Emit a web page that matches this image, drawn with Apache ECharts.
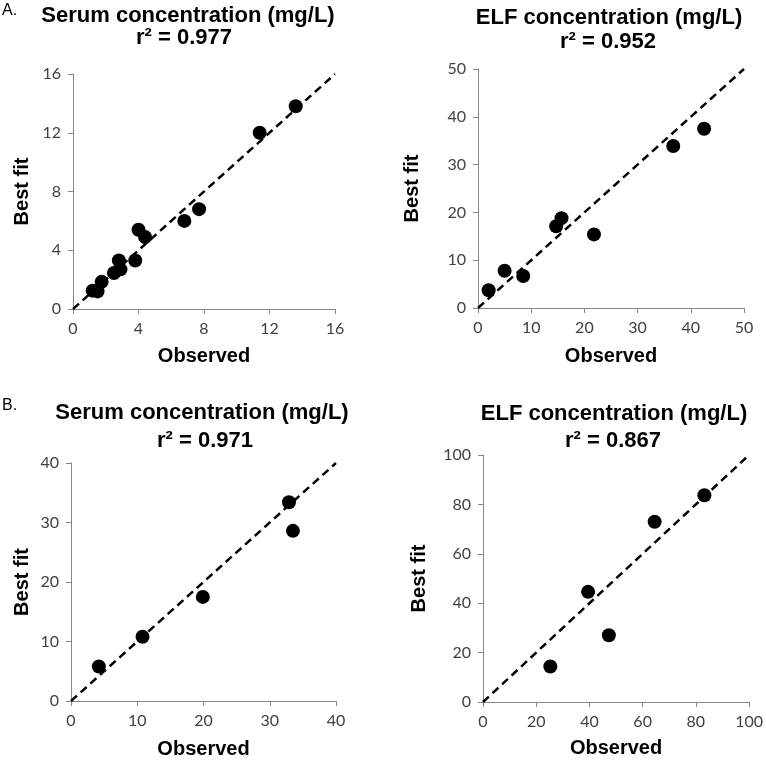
<!DOCTYPE html>
<html>
<head>
<meta charset="utf-8">
<script src="https://cdn.jsdelivr.net/npm/echarts@6/dist/echarts.min.js"></script>
<style>html,body{margin:0;padding:0;background:#fff}#c{width:766px;height:762px}</style>
</head>
<body>
<div id="c"></div>
<script>
// ---- Data ----
const serumA_obs = [13.6, 11.4, 7.7, 6.8, 4.0, 4.4, 3.8, 2.8, 2.9, 2.5, 1.75, 1.2, 1.5];
const serumA_fit = [13.8, 12.0, 6.8, 6.0, 5.4, 4.9, 3.3, 3.3, 2.7, 2.45, 1.85, 1.25, 1.2];
const elfA_obs = [2.0, 5.0, 8.5, 14.7, 15.7, 21.8, 36.7, 42.5];
const elfA_fit = [3.7, 7.8, 6.7, 17.1, 18.8, 15.4, 33.9, 37.5];
const serumB_obs = [4.2, 10.8, 19.9, 32.9, 33.5];
const serumB_fit = [5.8, 10.8, 17.5, 33.4, 28.6];
const elfB_obs = [25.3, 39.5, 47.3, 64.5, 83.2];
const elfB_fit = [14.4, 44.6, 27.0, 73.0, 83.7];
const axisMax = [16, 50, 40, 100];
const axisStep = [4, 10, 10, 20];
const titles = ["Serum concentration (mg/L)", "ELF concentration (mg/L)", "Serum concentration (mg/L)", "ELF concentration (mg/L)"];
const r2Labels = ["r² = 0.977", "r² = 0.952", "r² = 0.971", "r² = 0.867"];
const panelLetters = ["A.", "B."];
const xName = "Observed";
const yName = "Best fit";

// ---- Layout ----
const grids = [
  {left: 73, top: 74, width: 262, height: 235},
  {left: 478, top: 69, width: 266, height: 239},
  {left: 71, top: 463, width: 265, height: 238},
  {left: 483, top: 455, width: 268, height: 247}
];
const yNameGap = [41, 56, 39, 54];
const xNameGap = [37, 38, 38, 36];
const titlePos = [[188, 16], [609, 18], [202, 413], [614, 414]];
const r2Pos = [[184, 38], [608, 42], [205, 441], [613, 441]];
const letterPos = [[2, 11], [2, 406]];

const obsSets = [serumA_obs, elfA_obs, serumB_obs, elfB_obs];
const fitSets = [serumA_fit, elfA_fit, serumB_fit, elfB_fit];

const tickFont = {fontFamily: 'Lato', fontSize: 16, color: '#404040'};
const nameFont = {fontFamily: 'Liberation Sans', fontSize: 20, fontWeight: 'bold', color: '#000'};
const axisCol = '#868686';

const xAxes = [], yAxes = [], series = [], graphics = [];
for (let i = 0; i < 4; i++) {
  const common = {
    gridIndex: i, type: 'value', min: 0, max: axisMax[i], interval: axisStep[i],
    axisLine: {show: true, lineStyle: {color: axisCol, width: 1}},
    axisTick: {show: true, length: 5, lineStyle: {color: axisCol}},
    splitLine: {show: false},
    nameLocation: 'middle',
    nameTextStyle: nameFont
  };
  xAxes.push(Object.assign({}, common, {
    name: xName, nameGap: xNameGap[i],
    axisLabel: Object.assign({margin: 12}, tickFont)
  }));
  yAxes.push(Object.assign({}, common, {
    name: yName, nameGap: yNameGap[i],
    axisLabel: Object.assign({margin: 12}, tickFont)
  }));
  series.push({
    type: 'line', xAxisIndex: i, yAxisIndex: i,
    data: [[0, 0], [axisMax[i], axisMax[i]]],
    symbol: 'none', silent: true, z: 1,
    lineStyle: {color: '#000', width: 2.5, type: [8, 5]}
  });
  series.push({
    type: 'scatter', xAxisIndex: i, yAxisIndex: i, z: 3,
    data: obsSets[i].map((v, k) => [v, fitSets[i][k]]),
    symbol: 'circle', symbolSize: 14,
    itemStyle: {color: '#000', opacity: 1}
  });
  graphics.push({
    type: 'text', x: titlePos[i][0], y: titlePos[i][1],
    style: {text: titles[i], fontFamily: 'Liberation Sans', fontSize: 22, fontWeight: 'bold', fill: '#000', align: 'center', verticalAlign: 'middle'}
  });
  graphics.push({
    type: 'text', x: r2Pos[i][0], y: r2Pos[i][1],
    style: {text: r2Labels[i], fontFamily: 'Liberation Sans', fontSize: 22, fontWeight: 'bold', fill: '#000', align: 'center', verticalAlign: 'middle'}
  });
}
for (let j = 0; j < 2; j++) {
  graphics.push({
    type: 'text', x: letterPos[j][0], y: letterPos[j][1],
    style: {text: panelLetters[j], fontFamily: 'Liberation Sans', fontSize: 16, fill: '#000', align: 'left', verticalAlign: 'middle'}
  });
}

const chart = echarts.init(document.getElementById('c'), null, {renderer: 'canvas'});
chart.setOption({
  animation: false,
  backgroundColor: '#fff',
  grid: grids,
  xAxis: xAxes,
  yAxis: yAxes,
  series: series,
  graphic: graphics
});
</script>
</body>
</html>
